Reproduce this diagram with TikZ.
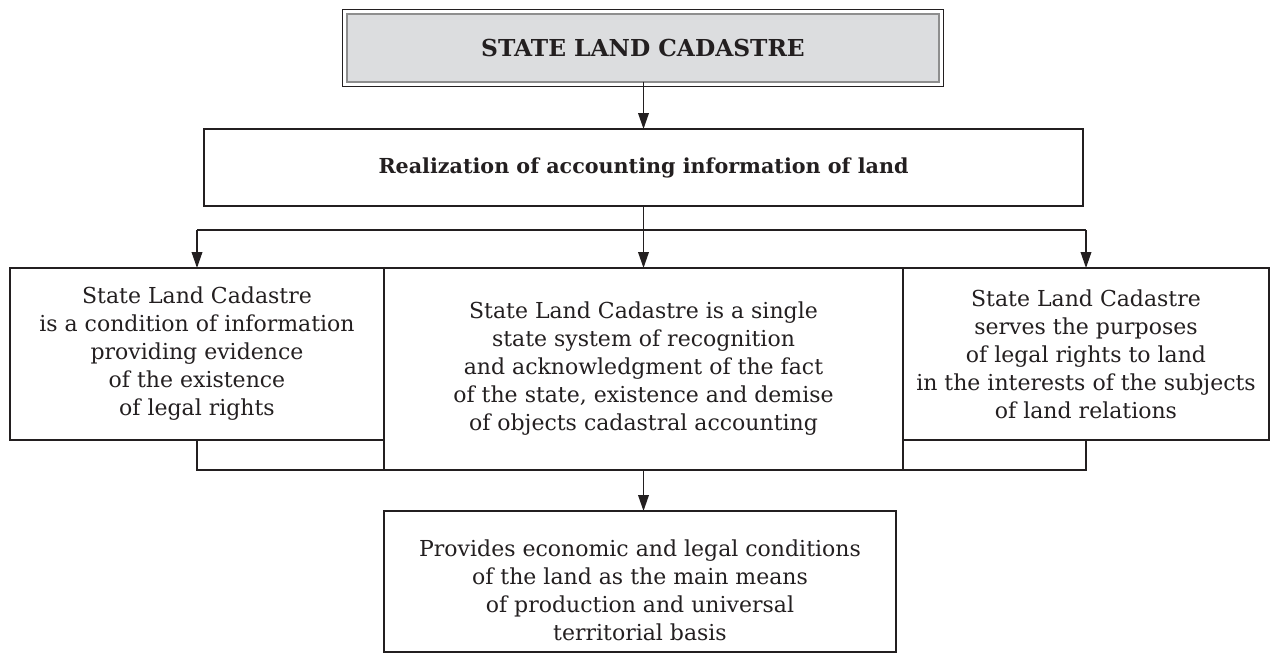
\documentclass[tikz,border=0pt]{standalone}
\usepackage{fontspec}
\setmainfont{DejaVu Serif}
\usetikzlibrary{arrows.meta}
\definecolor{ink}{HTML}{231F20}
\definecolor{panel}{HTML}{DCDDDF}
\definecolor{rim}{HTML}{8E8E8E}
\begin{document}
\begin{tikzpicture}[x=0.75pt,y=-0.75pt,>={Triangle[length=12pt,width=8pt]}]
  \tikzstyle{every node}=[text=ink,align=center,font=\fontsize{16.5}{21}\selectfont]
  \tikzstyle{box}=[draw=ink,line width=1.5pt,inner sep=0pt,outer sep=0pt]
  \tikzstyle{link}=[draw=ink,line width=1.1pt]
  \useasboundingbox (0,0) rectangle (1279,653);
  \node[box,draw=rim,fill=panel,minimum width=444pt,minimum height=50.6pt,
        font=\fontsize{17.5}{20}\selectfont\bfseries] (cadastre) at (643,48) {STATE LAND CADASTRE};
  \draw[ink,line width=0.8pt] ([xshift=-3.4pt,yshift=3.4pt]cadastre.north west)
    rectangle ([xshift=3.4pt,yshift=-3.4pt]cadastre.south east);
  \node[box,minimum width=659pt,minimum height=57.75pt,
        font=\fontsize{15.5}{20}\selectfont\bfseries] (realize) at (643.5,167.5)
    {Realization of accounting information of land};
  \node[box,minimum width=280.5pt,minimum height=129pt] (left) at (197,354)
    {State Land Cadastre\\is a condition of information\\providing evidence\\of the existence\\of legal rights};
  \node[box,minimum width=389.25pt,minimum height=151.5pt] (mid) at (643.5,369)
    {State Land Cadastre is a single\\state system of recognition\\and acknowledgment of the fact\\of the state, existence and demise\\of objects cadastral accounting};
  \node[box,minimum width=274.5pt,minimum height=129pt] (right) at (1086,354)
    {State Land Cadastre\\serves the purposes\\of legal rights to land\\in the interests of the subjects\\of land relations};
  \node[box,minimum width=384pt,minimum height=105.75pt] (basis) at (640,581.5) {};
  \node (basistext) at (640,590)
    {Provides economic and legal conditions\\of the land as the main means\\of production and universal\\territorial basis};
  % arrows
  \coordinate (fork) at (643.5,230);
  \draw[link,->] (cadastre.south -| realize.north) -- (realize.north);
  \draw[link,->] (realize.south) -- (mid.north);
  \draw[link] (left.north |- fork) -- (right.north |- fork);
  \draw[link,->] (left.north |- fork) -- (left.north);
  \draw[link,->] (right.north |- fork) -- (right.north);
  \draw[link] (left.south) -- (left.south |- mid.south) -- (mid.south west);
  \draw[link] (right.south) -- (right.south |- mid.south) -- (mid.south east);
  \draw[link,->] (mid.south) -- (mid.south |- basis.north);
\end{tikzpicture}
\end{document}
